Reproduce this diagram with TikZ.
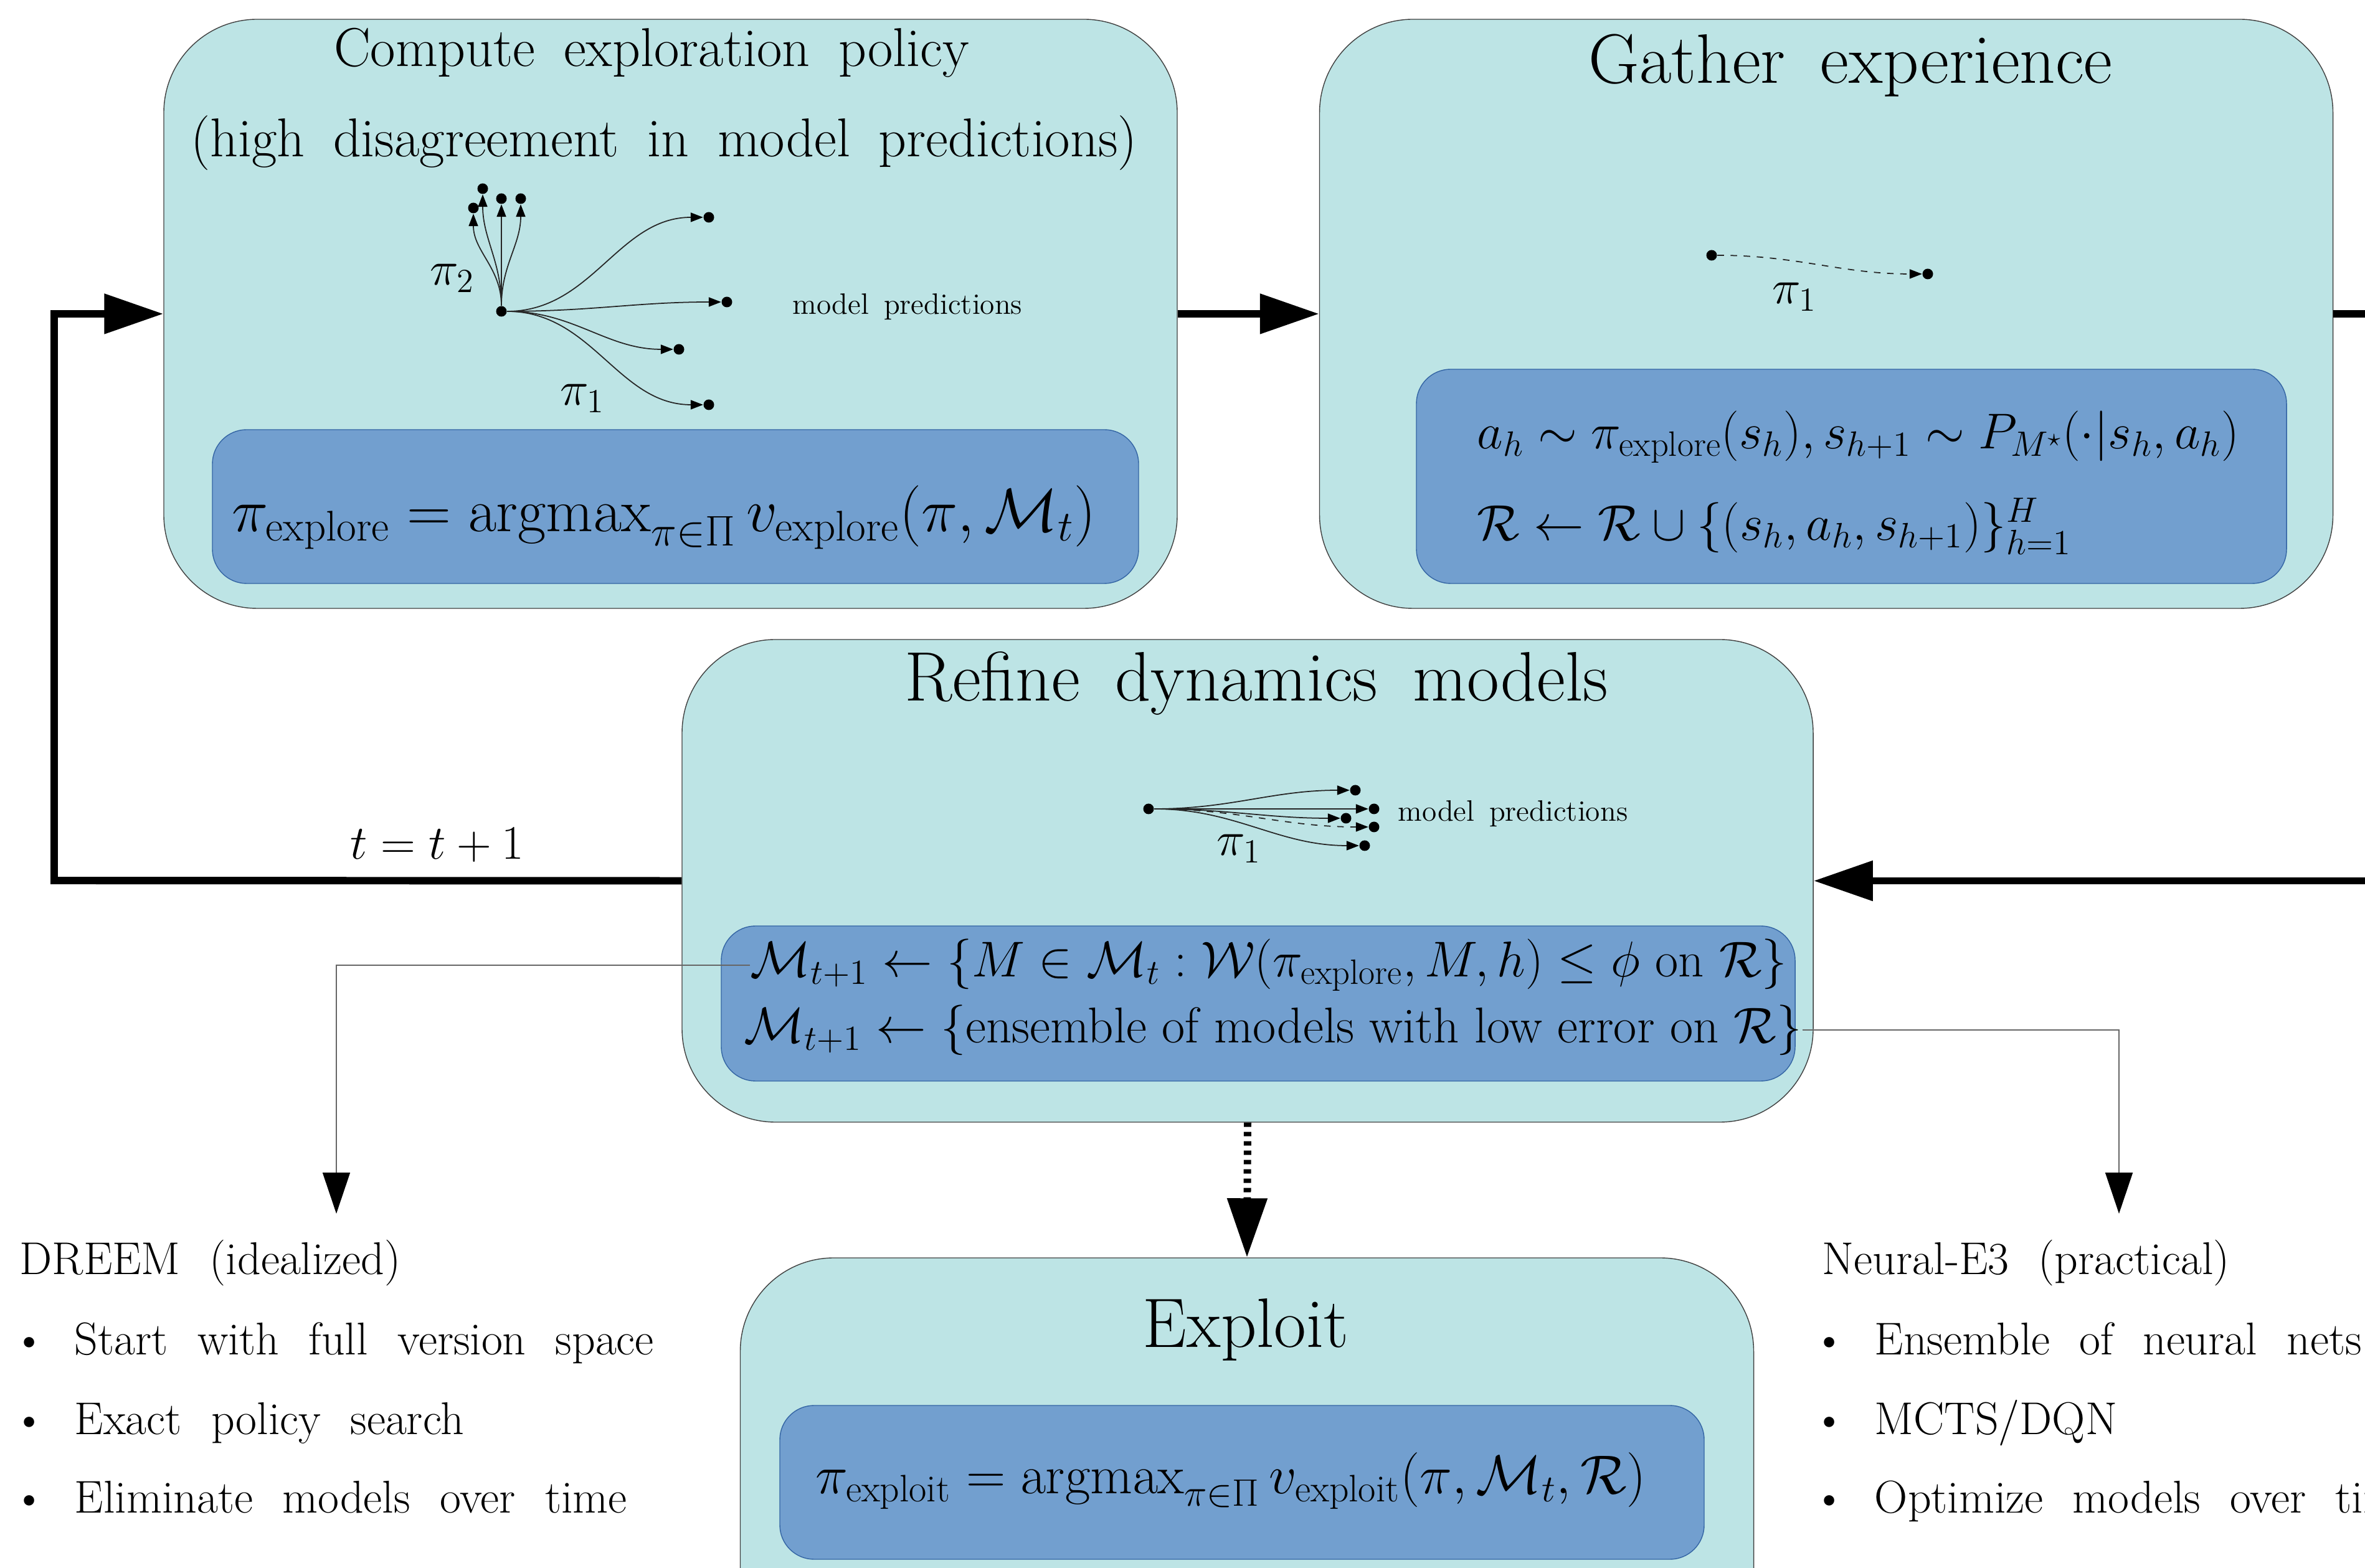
\RequirePackage{fix-cm}
\documentclass[tikz,border=0pt]{standalone}
\usepackage{amsmath,amssymb}
\usepackage{tikz}
\usetikzlibrary{arrows.meta,positioning,calc}
\definecolor{DREEMcyan}{RGB}{189,228,229}
\definecolor{DREEMblue}{RGB}{114,159,207}
\definecolor{DREEMedge}{RGB}{52,101,164}
\newcommand{\boxtitlefont}{\fontsize{32}{37}\selectfont\spaceskip=0.5em\relax}
\newcommand{\subtitlefont}{\fontsize{25}{29}\selectfont\spaceskip=0.52em\relax}
\newcommand{\listfont}{\fontsize{21}{25}\selectfont\spaceskip=0.64em\relax}
\newcommand{\predfont}{\fontsize{13.5}{16}\selectfont\spaceskip=0.5em\relax}
\newcommand{\bigmathfont}{\fontsize{28}{32}\selectfont}
\newcommand{\exploitmathfont}{\fontsize{25}{29}\selectfont}
\newcommand{\midmathfont}{\fontsize{23}{27}\selectfont}
\newcommand{\pilabelfont}{\fontsize{22}{26}\selectfont}

\begin{document}
\begin{tikzpicture}[every node/.style={inner sep=0pt},
    stagebox/.style={draw=black!75, line width=0.4pt, fill=DREEMcyan, rounded corners=1.5cm, minimum width=16.27cm, minimum height=9.46cm},
    mathbox/.style={draw=DREEMedge, line width=0.4pt, fill=DREEMblue, rounded corners=0.55cm},
    dotnode/.style={circle, fill=black, minimum size=0.17cm},
    predarrow/.style={draw=black!85, line width=0.5pt, -{Triangle[length=0.2cm, width=0.15cm, color=black]}},
    flowarrow/.style={line width=3.4pt, -{Triangle[length=0.95cm, width=0.62cm]}},
    thinarrow/.style={draw=black!60, line width=0.5pt, -{Triangle[length=0.66cm, width=0.44cm, color=black]}}]
    \useasboundingbox (0,0) rectangle (37.97,25.17);

    % stages
    \node[stagebox] (compute) at (10.765,20.13) {};
    \node[stagebox] (gather) at (29.32,20.13) {};
    \node[stagebox, minimum width=18.16cm, minimum height=7.75cm] (refine) at (20.03,11.025) {};
    \node[stagebox] (exploit) at (20.02,0.24) {};

    \node[mathbox, minimum width=14.87cm, minimum height=2.47cm] (computemath) at (10.845,17.035) {};
    \node[mathbox, minimum width=13.97cm, minimum height=3.44cm] (gathermath) at (29.725,17.52) {};
    \node[mathbox, minimum width=17.24cm, minimum height=2.49cm] (refinemath) at (20.2,9.055) {};
    \node[mathbox, minimum width=14.84cm, minimum height=2.47cm] (exploitmath) at (19.94,1.365) {};

    \node[font=\subtitlefont] (computetitle) at (10.46,24.32) {Compute exploration policy};
    \node[font=\subtitlefont] (computesub) at (10.66,22.87) {(high disagreement in model predictions)};
    \node[font=\boxtitlefont] (gathertitle) at (29.71,24.12) {Gather experience};
    \node[font=\boxtitlefont] (refinetitle) at (20.17,14.2) {Refine dynamics models};
    \node[font=\boxtitlefont] (exploittitle) at (20.0,3.82) {Exploit};

    \node[font=\bigmathfont] (explorepol) at (10.66,16.86) {$\pi_{\text{explore}} = \operatorname{argmax}_{\pi\in\Pi} v_{\text{explore}}(\pi,\mathcal{M}_t)$};
    \node[font=\midmathfont, anchor=west] (sample) at (23.71,18.15) {$a_h \sim \pi_{\text{explore}}(s_h), s_{h+1} \sim P_{M^\star}(\cdot|s_h,a_h)$};
    \node[font=\midmathfont, anchor=west] (replay) at (23.71,16.72) {$\mathcal{R} \leftarrow \mathcal{R}\cup\{(s_h,a_h,s_{h+1})\}_{h=1}^{H}$};
    \node[font=\midmathfont, anchor=west] (elim) at (12.04,9.67) {$\mathcal{M}_{t+1} \leftarrow \{M\in\mathcal{M}_t : \mathcal{W}(\pi_{\text{explore}},M,h)\le\phi \text{ on } \mathcal{R}\}$};
    \node[font=\midmathfont, anchor=west] (ensemble) at (11.94,8.63) {$\mathcal{M}_{t+1} \leftarrow \{\text{ensemble of models with low error on } \mathcal{R}\}$};
    \node[font=\exploitmathfont] (exploitpol) at (19.76,1.39) {$\pi_{\text{exploit}} = \operatorname{argmax}_{\pi\in\Pi} v_{\text{exploit}}(\pi,\mathcal{M}_t,\mathcal{R})$};

    % model predictions, compute box
    \node[dotnode] (croot) at (8.05,20.17) {};
    \node[dotnode] (ca) at (11.38,21.68) {};
    \node[dotnode] (cb) at (11.67,20.32) {};
    \node[dotnode] (cc) at (10.90,19.56) {};
    \node[dotnode] (cd) at (11.38,18.67) {};
    \node[dotnode] (cu1) at (7.60,21.83) {};
    \node[dotnode] (cu2) at (7.75,22.14) {};
    \node[dotnode] (cu3) at (8.05,21.98) {};
    \node[dotnode] (cu4) at (8.36,21.98) {};
    \draw[predarrow] (croot) to[out=0, in=180] (ca);
    \draw[predarrow] (croot) to[out=0, in=180] (cb);
    \draw[predarrow] (croot) to[out=0, in=180] (cc);
    \draw[predarrow] (croot) to[out=0, in=180] (cd);
    \draw[predarrow] (croot) to[out=90, in=-90] (cu1);
    \draw[predarrow] (croot) to[out=90, in=-90] (cu2);
    \draw[predarrow] (croot) to[out=90, in=-90] (cu3);
    \draw[predarrow] (croot) to[out=90, in=-90] (cu4);
    \node[font=\pilabelfont] (cpitwo) at (7.26,20.70) {$\pi_2$};
    \node[font=\pilabelfont] (cpione) at (9.35,18.77) {$\pi_1$};
    \node[font=\predfont] (cpred) at (14.57,20.24) {model predictions};

    % gather box
    \node[dotnode] (gstart) at (27.48,21.07) {};
    \node[dotnode] (gend) at (30.95,20.77) {};
    \draw[predarrow, dashed] (gstart) to[out=0, in=180] (gend);
    \node[font=\pilabelfont] (gpi) at (28.81,20.40) {$\pi_1$};

    % refine box
    \node[dotnode] (rroot) at (18.44,12.18) {};
    \node[dotnode] (ra) at (21.76,12.48) {};
    \node[dotnode] (rb) at (22.06,12.18) {};
    \node[dotnode] (rc) at (21.61,12.03) {};
    \node[dotnode] (rd) at (22.06,11.89) {};
    \node[dotnode] (re) at (21.91,11.59) {};
    \draw[predarrow] (rroot) to[out=0, in=180] (ra);
    \draw[predarrow] (rroot) to[out=0, in=180] (rb);
    \draw[predarrow] (rroot) to[out=0, in=180] (rc);
    \draw[predarrow, dashed] (rroot) to[out=0, in=180] (rd);
    \draw[predarrow] (rroot) to[out=0, in=180] (re);
    \node[font=\pilabelfont] (rpi) at (19.89,11.54) {$\pi_1$};
    \node[font=\predfont] (rpred) at (24.29,12.10) {model predictions};

    % main loop
    \draw[flowarrow] (compute.east) -- (gather.west);
    \draw[flowarrow] (gather.east) -- ++(1.5,0) |- (refine.east);
    \coordinate (loopcorner) at (0.87,11.03);
    \draw[flowarrow] (refine.west) -- (loopcorner) |- (compute.west);
    \node[font=\pilabelfont] (tstep) at (7.02,11.6) {$t = t+1$};
    \draw[flowarrow, dash pattern=on 0.07cm off 0.08cm] (refine.south) -- (exploit.north);

    % variants
    \coordinate (dreemtip) at (5.40,5.68);
    \coordinate (neuraltip) at (34.02,5.68);
    \draw[thinarrow] (elim.west) -| (dreemtip);
    \draw[thinarrow] (ensemble.east) -| (neuraltip);

    \node[font=\listfont, anchor=base west] (dreem) at (0.31,4.71) {DREEM (idealized)};
    \node[font=\listfont, anchor=base west] (dreemone) at (0.20,3.42) {\textbullet\hspace{0.46cm}Start with full version space};
    \node[font=\listfont, anchor=base west] (dreemtwo) at (0.20,2.14) {\textbullet\hspace{0.46cm}Exact policy search};
    \node[font=\listfont, anchor=base west] (dreemthree) at (0.20,0.88) {\textbullet\hspace{0.46cm}Eliminate models over time};
    \node[font=\listfont, anchor=base west] (neural) at (29.25,4.71) {Neural-E3 (practical)};
    \node[font=\listfont, anchor=base west] (neuralone) at (29.10,3.42) {\textbullet\hspace{0.46cm}Ensemble of neural nets};
    \node[font=\listfont, anchor=base west] (neuraltwo) at (29.10,2.14) {\textbullet\hspace{0.46cm}MCTS/DQN};
    \node[font=\listfont, anchor=base west] (neuralthree) at (29.10,0.88) {\textbullet\hspace{0.46cm}Optimize models over time};
\end{tikzpicture}
\end{document}
